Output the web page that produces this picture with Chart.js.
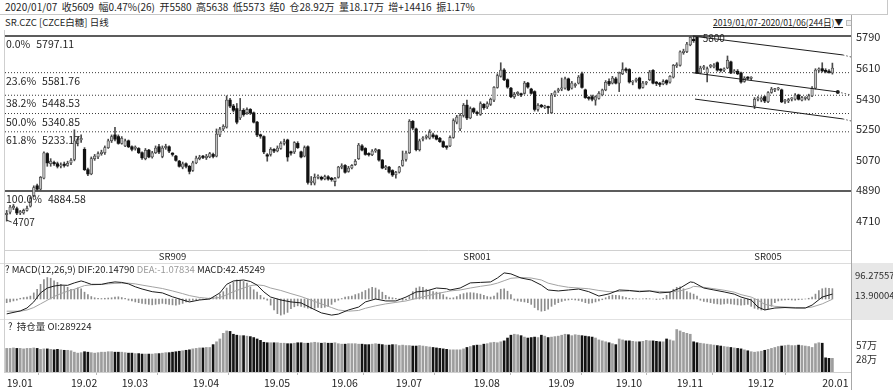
<!DOCTYPE html>
<html><head><meta charset="utf-8">
<script src="https://cdn.jsdelivr.net/npm/chart.js@4.4.1/dist/chart.umd.min.js"></script>
<style>
html,body{margin:0;padding:0;background:#fff;}
body{width:893px;height:390px;position:relative;overflow:hidden;font-family:"Noto Sans CJK SC","Noto Sans",sans-serif;color:#1e1e1e;}
canvas{position:absolute;left:0;}
.t{position:absolute;white-space:nowrap;line-height:1;}
.ln{position:absolute;}
</style></head><body>
<div class="t" style="left:5px;top:2px;font-size:10px;">2020/01/07&nbsp; 收5609&nbsp; 幅0.47%(26)&nbsp; 开5580&nbsp; 高5638&nbsp; 低5573&nbsp; 结0&nbsp; 仓28.92万&nbsp; 量18.17万&nbsp; 增+14416&nbsp; 振1.17%</div>
<div class="ln" style="left:0;top:14px;width:887px;height:0;border-top:1px solid #c8c8c8;"></div>
<div class="ln" style="left:887px;top:0;width:0;height:15px;border-left:1px solid #c8c8c8;"></div>
<div class="t" style="left:5px;top:18px;font-size:9.5px;">SR.CZC [CZCE白糖] 日线</div>
<div class="t" style="left:713px;top:18px;font-size:8.6px;text-decoration:underline;">2019/01/07-2020/01/06(244日)▼</div>
<div class="ln" style="left:846px;top:20px;width:4px;height:4px;border:1px solid #bbb;background:#eee;"></div>

<canvas id="cPrice" width="893" height="233" style="top:30px"></canvas>
<canvas id="cMacd" width="893" height="57" style="top:263px"></canvas>
<canvas id="cOi" width="893" height="70" style="top:320px"></canvas>

<div class="ln" style="left:0;top:263px;width:851px;height:0;border-top:1px solid #dcdcdc;"></div>
<div class="ln" style="left:0;top:319px;width:851px;height:0;border-top:1px solid #e2e2e2;"></div>
<div class="ln" style="left:4px;top:30px;width:0;height:343px;border-left:1px solid #cfcfcf;"></div>
<div class="ln" style="left:851px;top:15px;width:0;height:375px;border-left:1px solid #a8a8a8;"></div>

<div class="t" style="left:5px;top:265px;font-size:9.5px;">? MACD(12,26,9) DIF:20.14790 <span style="color:#9a9a9a">DEA:-1.07834</span> MACD:42.45249</div>
<div class="t" style="left:8px;top:322px;font-size:9.5px;">?&nbsp; 持仓量 OI:289224</div>

<script>
// ---------------- data ----------------
const monthLabels = ['19.01','19.02','19.03','19.04','19.05','19.06','19.07','19.08','19.09','19.10','19.11','19.12','20.01'];
const monthDays   = [19,15,21,21,20,19,23,22,20,18,21,22,4];
const contractNames = ['SR909','SR001','SR005'];
const contractAt    = [49,139,225];
const priceTicks = [4710,4890,5070,5250,5430,5610,5790];

const open = [
4745,4760,4785,4780,4755,4755,4770,4795,4855,4915,4895,4960,5105,5045,5050,5045,5030,5040,5035,
5050,5070,5165,5185,5130,5010,4985,5075,5085,5105,5110,5140,5180,5215,5205,
5165,5150,5180,5145,5135,5135,5110,5075,5125,5085,5110,5145,5088,5140,5145,5105,5090,5060,5025,5045,5030,
5005,5050,5075,5085,5080,5085,5100,5090,5215,5250,5260,5420,5385,5370,5315,5360,5345,5365,5345,5290,5212,
5205,5095,5100,5130,5120,5135,5165,5185,5110,5115,5165,5115,5090,5145,4935,4930,4965,4965,4955,4968,
4955,4940,4965,5025,5035,5000,5020,5040,5075,5150,5135,5100,5098,5120,5126,5067,5020,5025,5005,
4980,4995,5035,5070,5110,5295,5250,5128,5190,5200,5195,5215,5210,5195,5175,5145,5150,5200,5290,5250,5330,5390,5315,
5370,5345,5335,5395,5380,5395,5420,5495,5560,5597,5540,5490,5440,5458,5455,5460,5520,5485,5470,5365,5385,5378,
5378,5345,5450,5475,5485,5490,5545,5490,5505,5520,5575,5480,5432,5440,5420,5430,5450,5480,5530,5520,
5545,5520,5575,5600,5600,5525,5535,5550,5495,5520,5540,5595,5520,5515,5515,5535,5525,5555,
5622,5625,5700,5705,5745,5775,5790,5580,5610,5580,5618,5615,5640,5597,5597,5610,5645,5585,5590,5580,5530,
5550,5548,5385,5425,5420,5440,5410,5465,5480,5485,5480,5412,5415,5425,5425,5450,5420,5430,5425,5445,5490,5597,
5605,5590,5588,5580];
const high = [
4770,4800,4805,4790,4770,4778,4795,4850,4915,4925,4970,5115,5110,5075,5060,5055,5050,5055,5060,
5075,5245,5200,5215,5140,5020,5085,5100,5115,5125,5150,5190,5215,5260,5215,
5205,5190,5185,5150,5150,5140,5115,5135,5130,5118,5150,5160,5150,5160,5150,5110,5095,5065,5055,5050,5035,
5060,5090,5095,5095,5100,5112,5108,5250,5260,5275,5445,5430,5395,5400,5430,5370,5375,5370,5350,5295,5220,
5210,5105,5140,5135,5150,5175,5190,5190,5120,5175,5175,5120,5150,5150,4970,4985,4980,4972,4978,4975,
4965,4965,5030,5045,5040,5030,5040,5070,5165,5158,5140,5110,5128,5135,5130,5070,5035,5030,5010,
5000,5030,5120,5120,5305,5300,5255,5190,5205,5215,5245,5225,5215,5200,5180,5150,5210,5310,5330,5340,5400,5420,5380,
5375,5355,5410,5400,5410,5432,5500,5575,5640,5605,5545,5495,5465,5470,5462,5530,5525,5490,5475,5400,5395,5390,
5385,5460,5475,5490,5550,5555,5550,5530,5520,5565,5585,5485,5440,5450,5445,5470,5485,5535,5545,5560,
5555,5585,5640,5610,5605,5535,5550,5555,5530,5530,5595,5600,5530,5525,5540,5540,5565,5630,
5640,5710,5720,5760,5795,5800,5795,5620,5625,5615,5630,5635,5645,5605,5610,5680,5650,5600,5600,5585,5558,
5558,5558,5435,5440,5440,5445,5470,5495,5490,5495,5485,5425,5430,5435,5458,5455,5442,5440,5455,5500,5605,5610,
5640,5605,5600,5638];
const low = [
4707,4750,4775,4745,4745,4748,4765,4790,4850,4885,4890,4955,5030,5030,5035,5020,5020,5025,5030,
5040,5062,5150,5170,5005,4975,4980,5065,5075,5095,5100,5135,5170,5180,5160,
5160,5145,5140,5120,5125,5105,5070,5068,5080,5078,5105,5105,5080,5130,5110,5090,5060,5025,5015,5020,4985,
5000,5045,5068,5075,5070,5080,5080,5085,5205,5240,5255,5375,5350,5280,5305,5325,5335,5335,5285,5205,5195,
5105,5060,5090,5110,5115,5130,5155,5060,5095,5105,5135,5080,5085,4925,4920,4920,4955,4948,4950,4948,
4942,4914,4960,5015,4990,4995,5015,5035,5070,5120,5095,5090,5092,5112,5060,5015,5010,4990,4970,
4960,4990,5030,5060,5105,5245,5120,5120,5180,5190,5190,5195,5185,5170,5140,5130,5145,5195,5280,5240,5320,5305,5310,
5345,5330,5330,5365,5370,5388,5410,5490,5555,5535,5490,5435,5430,5448,5440,5455,5490,5455,5355,5355,5375,5370,
5340,5340,5440,5465,5475,5485,5475,5485,5495,5515,5490,5430,5420,5415,5390,5425,5445,5475,5505,5515,
5515,5470,5570,5585,5520,5510,5525,5485,5490,5510,5535,5515,5505,5500,5510,5510,5520,5550,
5612,5620,5690,5700,5740,5760,5575,5575,5600,5527,5610,5610,5590,5585,5588,5605,5575,5578,5570,5520,5525,
5540,5540,5370,5415,5410,5405,5405,5460,5470,5478,5405,5400,5405,5415,5420,5420,5415,5420,5420,5440,5485,5585,
5585,5580,5578,5573];
const close = [
4752,4790,4795,4755,4760,4770,4782,4840,4905,4895,4965,5110,5050,5060,5045,5030,5038,5035,5048,
5065,5180,5190,5195,5010,4985,5075,5090,5105,5110,5140,5180,5205,5190,5165,
5195,5180,5145,5130,5138,5110,5080,5125,5085,5110,5138,5114,5138,5145,5120,5100,5065,5030,5045,5030,5000,
5050,5078,5085,5082,5090,5105,5088,5220,5250,5265,5420,5385,5360,5290,5360,5335,5365,5345,5290,5215,5208,
5115,5090,5130,5120,5138,5165,5175,5085,5108,5170,5140,5085,5140,4935,4940,4965,4968,4955,4970,4955,
4952,4960,5025,5028,4995,5020,5035,5060,5155,5126,5100,5098,5120,5128,5067,5020,5025,4996,4979,
4995,5025,5067,5108,5295,5255,5128,5180,5195,5205,5230,5205,5190,5175,5145,5142,5200,5300,5320,5330,5390,5315,5370,
5350,5340,5400,5375,5400,5425,5495,5565,5597,5540,5497,5440,5455,5460,5450,5520,5497,5460,5365,5390,5382,5380,
5375,5450,5468,5480,5490,5545,5480,5520,5510,5556,5495,5435,5430,5425,5440,5460,5480,5525,5515,5550,
5520,5580,5600,5595,5527,5527,5540,5490,5520,5522,5585,5520,5518,5512,5530,5520,5560,5625,
5625,5705,5705,5750,5790,5770,5580,5609,5612,5605,5620,5627,5597,5595,5598,5655,5580,5588,5575,5527,5550,
5548,5550,5425,5428,5432,5415,5465,5485,5482,5488,5410,5415,5418,5428,5450,5425,5435,5432,5445,5490,5597,5600,
5592,5588,5583,5609];

const fibPct    = ['0.0%','23.6%','38.2%','50.0%','61.8%','100.0%'];
const fibLevels = [5797.11,5581.76,5448.53,5340.85,5233.17,4884.58];

// channel lines drawn from the 5800 top: [barIndex, price]
const channelUpper  = [[202.8,5797],[247.1,5686],[249.5,5674]];
const channelMiddle = [[202.8,5581],[245.6,5468],[249.5,5450]];
const channelLower  = [[203.4,5426],[247.1,5309],[249.5,5297]];

// MACD
const macdAt  = [0,4,6,8,10,12,14,16,18,20,22,23,25,28,30,32,34,36,38,40,43,46,49,52,54,57,60,63,65,67,70,72,74,76,78,81,84,87,90,93,96,98,101,104,106,109,112,115,118,121,124,127,130,131,134,137,140,143,145,147,149,152,155,158,160,163,166,169,172,175,178,181,184,187,190,193,196,199,202,203,206,209,212,215,217,220,222,224,227,230,233,236,238,241,244];
const difVals = [-61,-49,-37,-12,25,45,53,57,56,66,74,70,60,60,66,70,68,62,50,41,30,25,9,-4,-12,-4,0,25,60,74,78,72,57,29,8,-4,-12,-16,-37,-57,-66,-62,-45,-33,-12,0,-8,-8,8,29,33,45,42,37,45,66,68,70,86,107,103,86,78,57,37,33,37,41,30,12,21,37,35,30,33,25,28,45,70,68,45,37,29,20,8,-4,-33,-45,-37,-35,-37,-37,-25,8,20.1479];
const deaVals = [-50,-50,-45,-35,-20,-5,10,22,32,40,50,55,58,60,62,64,65,65,62,57,50,43,33,22,14,6,2,6,17,30,45,55,58,55,45,35,22,10,-5,-20,-35,-45,-50,-47,-38,-28,-20,-14,-8,2,12,22,30,33,37,45,52,58,65,75,85,88,86,78,65,55,48,45,42,35,30,31,33,33,33,31,29,33,45,52,48,42,36,28,18,8,-5,-22,-30,-33,-35,-36,-33,-20,-1.07834];
const macdHist = [
-15,-12,-8,-5,3,6,8,12,25,40,60,80,88,85,75,68,60,52,48,40,38,45,42,28,18,10,5,3,2,3,4,5,8,9,6,3,
-5,-8,-12,-15,-18,-20,-22,-24,-22,-20,-18,-20,-22,-24,-25,-22,-18,-12,-8,-5,-3,-2,-1,2,4,6,10,
20,30,45,58,70,78,76,72,65,50,38,28,15,5,-5,-25,-45,-60,-66,-62,-55,-40,-32,-28,-30,-34,-38,
-40,-38,-35,-36,-34,-30,-22,-12,-5,2,8,10,12,18,22,28,35,42,48,45,38,28,15,8,5,3,-2,-5,-3,10,
30,45,50,48,40,35,30,28,25,18,8,4,5,10,18,22,25,26,25,22,20,15,10,8,12,25,40,42,32,18,
-5,-8,-10,-12,-15,-22,-35,-45,-50,-48,-42,-30,-22,-15,-10,-6,-4,-2,-4,-6,-10,-15,-18,-16,-12,-8,-3,
5,12,16,15,14,10,6,3,2,1,0,1,2,1,0,-2,-1,3,15,28,40,48,50,42,30,25,20,12,
-5,-10,-12,-15,-18,-20,-22,-20,-18,-20,-22,-24,-25,-24,-22,-30,-38,-42,-45,-44,-40,-30,
-15,-8,-5,-4,-3,-4,-5,-3,-2,0,3,8,20,35,42,45,44,42.45];
const macdTicks = [13.90004,96.27557];

// open interest, unit 万
const oiWan = [
50,50,51,50,50,49,50,50,51,50,48,49,49,48,47,48,47,46,46,
45,42,40,41,43,42,41,40,41,42,42,43,43,42,42,
42,41,40,40,39,39,38,38,38,38,39,39,40,41,41,42,43,44,45,46,47,
49,50,51,51,52,52,58,64,70,82,87,86,80,78,77,77,76,75,73,70,67,
63,62,62,62,62,61,61,60,60,61,62,62,61,61,62,63,62,61,62,61,
61,62,60,59,59,60,60,60,59,59,58,58,59,60,59,58,57,57,58,
58,56,57,56,56,55,55,56,55,54,53,52,51,50,49,48,47,47,47,47,49,52,54,
56,57,57,59,60,62,63,62,64,66,72,78,80,79,77,74,72,73,74,73,78,76,
73,74,75,76,78,80,79,77,79,78,77,76,75,74,72,68,66,64,62,60,
58,70,68,66,66,65,64,64,65,67,66,66,65,64,64,70,68,66,
90,87,84,82,80,64,62,61,60,59,58,57,56,55,54,53,52,51,50,49,47,
45,43,42,43,44,46,48,50,52,54,55,56,57,56,56,57,56,55,54,52,60,62,
61,30,29,28.92];
const oiTicks = [28,57];

// ---------------- rendering ----------------
const FONT = '"Noto Sans CJK SC","Noto Sans",sans-serif';
Chart.defaults.font.family = FONT;
Chart.defaults.animation = false;
const X_MIN = -0.5, X_MAX = 249.5, AXIS_W = 42;
const monthStart = [];
monthDays.reduce((acc, d) => { monthStart.push(acc); return acc + d; }, 0);
const isUp = i => close[i] >= open[i];

const fitY = a => { a.width = AXIS_W; a.paddingTop = 0; a.paddingBottom = 0; a.paddingLeft = 0; a.paddingRight = 0; };
const fitX = h => a => { a.height = h; a.paddingLeft = 0; a.paddingRight = 0; a.paddingTop = 0; a.paddingBottom = 0; };
const noGrid = { display: false, drawTicks: false };

const baseOpts = (yOpts, xOpts) => ({
  responsive: false, maintainAspectRatio: false, animation: false,
  layout: { autoPadding: false, padding: { left: 5, right: 0, top: 0, bottom: 0 } },
  plugins: { legend: { display: false }, tooltip: { enabled: false } },
  scales: { x: xOpts, y: yOpts }
});
const hiddenX = { type: 'linear', min: X_MIN, max: X_MAX, offset: false, display: false };

// ---- price panel ----
const fibDatasets = fibLevels.map((lv, k) => {
  const solid = (k === 0 || k === fibLevels.length - 1);
  return { type: 'line', data: [{ x: X_MIN, y: lv }, { x: X_MAX, y: lv }],
    borderColor: solid ? '#5c5c5c' : '#3a3a3a', borderWidth: solid ? 2 : 1,
    borderDash: solid ? [] : [1, 2], pointRadius: 0, order: 10 };
});
function channelSets(pts, endDot) {
  return [
    { type: 'line', data: [pts[0], pts[1]].map(p => ({ x: p[0], y: p[1] })), borderColor: '#1e1e1e', borderWidth: 1,
      pointRadius: endDot ? [0, 2] : 0, pointBackgroundColor: '#1e1e1e', pointBorderWidth: 0, order: 0 },
    { type: 'line', data: [pts[1], pts[2]].map(p => ({ x: p[0], y: p[1] })), borderColor: '#555', borderWidth: 1,
      borderDash: [1.5, 2], pointRadius: 0, order: 0 }
  ];
}
const annot = {
  id: 'annot',
  afterDatasetsDraw(c) {
    const { ctx, chartArea, scales: { x, y } } = c;
    ctx.save();
    ctx.fillStyle = '#1e1e1e';
    ctx.font = '10.5px ' + FONT;
    ctx.textBaseline = 'top';
    fibLevels.forEach((lv, k) => {
      const py = y.getPixelForValue(lv);
      const x0 = chartArea.left + 1;
      ctx.fillText(fibPct[k], x0, py + 3);
      const w = ctx.measureText(fibPct[k]).width;
      ctx.fillText(lv.toFixed(2), Math.max(x0 + 29, x0 + w + 6), py + 3);
    });
    const hiIdx = high.indexOf(Math.max(...high));
    const loIdx = low.indexOf(Math.min(...low));
    const hx = x.getPixelForValue(hiIdx), hy = y.getPixelForValue(high[hiIdx]);
    const lx = x.getPixelForValue(loIdx), ly = y.getPixelForValue(low[loIdx]);
    ctx.strokeStyle = '#333'; ctx.lineWidth = 1;
    ctx.beginPath(); ctx.moveTo(hx, hy + 0.5); ctx.lineTo(hx + 8, hy + 0.5); ctx.stroke();
    ctx.beginPath(); ctx.moveTo(lx, ly - 1); ctx.lineTo(lx + 5, ly + 1); ctx.stroke();
    ctx.font = '10px ' + FONT;
    ctx.textBaseline = 'top';
    ctx.fillText(String(high[hiIdx]), hx + 9, hy - 2);
    ctx.textBaseline = 'middle';
    ctx.fillText(String(low[loIdx]), lx + 6, ly + 1);
    ctx.restore();
  }
};
new Chart(document.getElementById('cPrice'), {
  type: 'bar',
  data: { datasets: [
    ...fibDatasets,
    ...channelSets(channelUpper, false),
    ...channelSets(channelMiddle, true),
    ...channelSets(channelLower, false),
    { type: 'bar', data: close.map((c, i) => ({ x: i, y: [low[i], high[i]] })),
      backgroundColor: '#4a4a4a', barThickness: 1, grouped: false, order: 3 },
    { type: 'bar', data: close.map((c, i) => ({ x: i, y: [open[i], close[i]] })),
      backgroundColor: close.map((c, i) => isUp(i) ? '#c2c2c2' : '#111111'),
      borderColor: close.map((c, i) => isUp(i) ? '#4a4a4a' : '#111111'),
      borderWidth: close.map((c, i) => isUp(i) ? 0.8 : 0),
      borderSkipped: false, barThickness: 2.6, minBarLength: 1.3, grouped: false, order: 2 }
  ] },
  options: baseOpts(
    { position: 'right', min: 4536.8, max: 5833.0,
      afterBuildTicks: a => { a.ticks = priceTicks.map(v => ({ value: v })); },
      afterFit: fitY,
      grid: noGrid, border: { display: false },
      ticks: { padding: 5, color: '#2a2a2a', font: { size: 11 }, callback: v => String(v) } },
    { type: 'linear', min: X_MIN, max: X_MAX, offset: false, position: 'bottom',
      afterBuildTicks: a => { a.ticks = contractAt.map(v => ({ value: v })); },
      afterFit: fitX(13),
      grid: noGrid, border: { display: true, color: '#d0d0d0' },
      ticks: { autoSkip: false, maxRotation: 0, padding: 1, color: '#1e1e1e', font: { size: 9.5 },
        callback: (v, i) => contractNames[i] } }
  ),
  plugins: [annot]
});

// ---- MACD panel ----
const axisBg = { id: 'axisBg', beforeDraw(c) {
  const s = c.scales.y, ctx = c.ctx; ctx.save(); ctx.fillStyle = '#e7e7e7';
  ctx.fillRect(s.left + 1, 0, s.width, c.height); ctx.restore(); } };
new Chart(document.getElementById('cMacd'), {
  type: 'bar',
  data: { datasets: [
    { type: 'line', data: macdAt.map((i, k) => ({ x: i, y: difVals[k] })), borderColor: '#1c1c1c', borderWidth: 1, pointRadius: 0, order: 0 },
    { type: 'line', data: macdAt.map((i, k) => ({ x: i, y: deaVals[k] })), borderColor: '#a3a3a3', borderWidth: 1, pointRadius: 0, order: 1 },
    { type: 'bar', data: macdHist.map((h, i) => ({ x: i, y: h })), backgroundColor: '#8c8c8c', barThickness: 1, order: 2 }
  ] },
  options: baseOpts(
    { position: 'right', min: -86.1, max: 147.6,
      afterBuildTicks: a => { a.ticks = macdTicks.map(v => ({ value: v })); },
      afterFit: fitY,
      grid: noGrid, border: { display: false },
      ticks: { padding: 4, color: '#2a2a2a', font: { size: 9.5 }, callback: v => v.toFixed(5) } },
    hiddenX
  ),
  plugins: [axisBg]
});

// ---- open interest panel ----
new Chart(document.getElementById('cOi'), {
  type: 'bar',
  data: { datasets: [
    { type: 'bar', data: oiWan.map((v, i) => ({ x: i, y: v })),
      backgroundColor: oiWan.map((v, i) => isUp(i) ? '#9d9d9d' : '#141414'), barThickness: 2 }
  ] },
  options: baseOpts(
    { position: 'right', min: 0, max: 110.2,
      afterBuildTicks: a => { a.ticks = oiTicks.map(v => ({ value: v })); },
      afterFit: fitY,
      grid: noGrid, border: { display: false },
      ticks: { padding: 5, color: '#2a2a2a', font: { size: 10 }, callback: v => v + '万' } },
    { type: 'linear', min: X_MIN, max: X_MAX, offset: false, position: 'bottom',
      afterBuildTicks: a => { a.ticks = monthStart.map(v => ({ value: v })); },
      afterFit: fitX(18),
      grid: { display: true, drawOnChartArea: false, drawTicks: true, tickLength: 3, color: '#b5b5b5' },
      border: { display: true, color: '#cfcfcf' },
      ticks: { autoSkip: false, maxRotation: 0, align: 'start', padding: 2, color: '#1e1e1e', font: { size: 10.5 },
        callback: (v, i) => monthLabels[i] } }
  )
});
</script>
</body></html>
